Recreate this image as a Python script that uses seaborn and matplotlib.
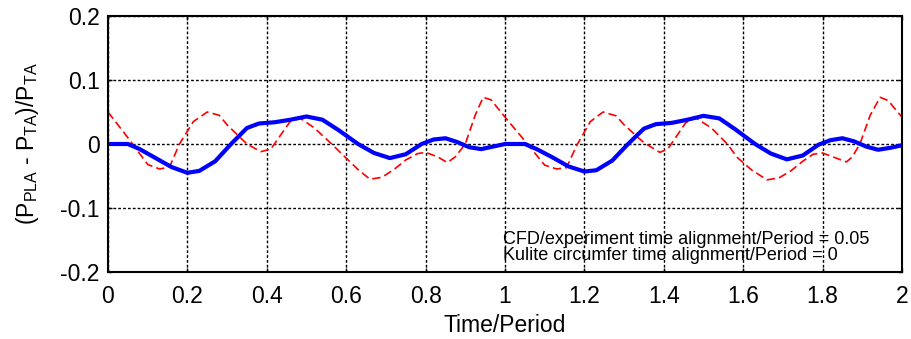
import numpy as np
import pandas as pd
import matplotlib
matplotlib.use('Agg')
import matplotlib.pyplot as plt
import seaborn as sns
from matplotlib.ticker import FormatStrFormatter

# blue: CFD result (thick solid)
t_blue = [0.00, 0.05, 0.08, 0.12, 0.16, 0.20, 0.23, 0.27, 0.31, 0.35, 0.38, 0.42,
          0.46, 0.50, 0.54, 0.58, 0.63, 0.67, 0.71, 0.75, 0.79, 0.82, 0.85, 0.88,
          0.91, 0.94, 0.97, 1.00, 1.05, 1.08, 1.12, 1.16, 1.20, 1.23, 1.27, 1.31,
          1.35, 1.38, 1.42, 1.46, 1.50, 1.54, 1.58, 1.63, 1.67, 1.71, 1.75, 1.79,
          1.82, 1.85, 1.88, 1.91, 1.94, 1.97, 2.00]
v_blue = [0.000, 0.000, -0.008, -0.022, -0.036, -0.045, -0.042, -0.027, 0.000, 0.025, 0.032, 0.034,
          0.038, 0.043, 0.038, 0.022, 0.000, -0.014, -0.022, -0.016, 0.000, 0.007, 0.009, 0.003,
          -0.005, -0.008, -0.004, 0.000, 0.000, -0.008, -0.021, -0.035, -0.043, -0.041, -0.026, 0.000,
          0.024, 0.031, 0.033, 0.038, 0.044, 0.040, 0.023, 0.000, -0.015, -0.024, -0.018, -0.001,
          0.006, 0.009, 0.004, -0.004, -0.009, -0.006, -0.002]

# red: experiment (thin dashed)
t_red = [0.000, 0.050, 0.100, 0.130, 0.155, 0.180, 0.215, 0.250, 0.280, 0.300, 0.350, 0.385,
         0.410, 0.460, 0.485, 0.520, 0.560, 0.600, 0.630, 0.660, 0.690, 0.720, 0.750, 0.780,
         0.800, 0.830, 0.855, 0.875, 0.900, 0.925, 0.945, 0.965, 1.000,
         1.050, 1.100, 1.130, 1.155, 1.180, 1.215, 1.247, 1.280, 1.300, 1.350, 1.390,
         1.410, 1.455, 1.478, 1.520, 1.560, 1.585, 1.620, 1.660, 1.690, 1.720, 1.750, 1.776,
         1.800, 1.830, 1.860, 1.875, 1.894, 1.920, 1.945, 1.965, 2.000]
v_red = [0.050, 0.010, -0.032, -0.039, -0.036, 0.000, 0.035, 0.050, 0.045, 0.030, 0.000, -0.012,
         -0.008, 0.036, 0.040, 0.025, 0.002, -0.022, -0.040, -0.055, -0.052, -0.040, -0.025, -0.015,
         -0.013, -0.020, -0.029, -0.020, 0.000, 0.045, 0.073, 0.069, 0.042,
         0.005, -0.033, -0.039, -0.037, -0.003, 0.035, 0.050, 0.044, 0.030, 0.002, -0.013,
         -0.008, 0.033, 0.042, 0.025, 0.000, -0.021, -0.040, -0.056, -0.053, -0.042, -0.027, -0.016,
         -0.014, -0.021, -0.028, -0.020, 0.000, 0.045, 0.073, 0.068, 0.042]

x_ticks = [0, 0.2, 0.4, 0.6, 0.8, 1, 1.2, 1.4, 1.6, 1.8, 2]
y_ticks = [-0.2, -0.1, 0, 0.1, 0.2]

sns.set_style('white')
plt.rcParams['font.family'] = ['Liberation Sans', 'DejaVu Sans']
plt.rcParams['mathtext.fontset'] = 'custom'
plt.rcParams['mathtext.rm'] = 'Liberation Sans'
plt.rcParams['axes.unicode_minus'] = False
for k in ['text.color', 'axes.labelcolor', 'xtick.color', 'ytick.color']:
    plt.rcParams[k] = 'black'

df_blue = pd.DataFrame({'t': t_blue, 'v': v_blue})
df_red = pd.DataFrame({'t': t_red, 'v': v_red})

fig, ax = plt.subplots(figsize=(9.12, 3.39), dpi=100)
fig.subplots_adjust(left=0.1184, right=0.989, bottom=0.1976, top=0.9528)

sns.lineplot(x='t', y='v', data=df_red, ax=ax, color='red', linewidth=1.2,
             linestyle=(0, (5, 2.5)))
sns.lineplot(x='t', y='v', data=df_blue, ax=ax, color='blue', linewidth=3)

ax.set_xlim(0, 2)
ax.set_ylim(-0.2, 0.2)
ax.set_xticks(x_ticks)
ax.set_yticks(y_ticks)
ax.xaxis.set_major_formatter(FormatStrFormatter('%g'))
ax.yaxis.set_major_formatter(FormatStrFormatter('%g'))
ax.grid(True, color='black', linestyle=(0, (2, 1.5)), linewidth=1)
ax.tick_params(labelsize=16.5, direction='in', length=3, width=1,
               top=True, right=True, bottom=True, left=True, pad=6)
ax.tick_params(axis='x', pad=9)
for s in ax.spines.values():
    s.set_color('black')
    s.set_linewidth(1.5)

ax.set_xlabel('Time/Period', fontsize=16.5, labelpad=5)
ax.set_ylabel(r'(P$_{\rm PLA}$ - P$_{\rm TA}$)/P$_{\rm TA}$', fontsize=16.5, labelpad=14)

ax.text(0.995, -0.1555, 'CFD/experiment time alignment/Period = 0.05', fontsize=13, va='baseline')
ax.text(0.995, -0.1805, 'Kulite circumfer time alignment/Period = 0', fontsize=13, va='baseline')

plt.savefig('out.png', dpi=100)
